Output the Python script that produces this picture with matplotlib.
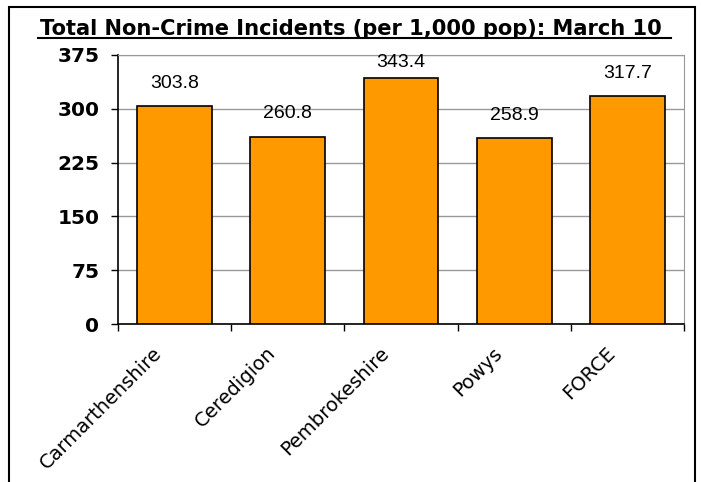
import numpy as np
import matplotlib
matplotlib.use('Agg')
from matplotlib import pyplot as plt
from matplotlib.patches import Rectangle
from matplotlib.lines import Line2D
from matplotlib.transforms import ScaledTranslation

# data
areas = ['Carmarthenshire', 'Ceredigion', 'Pembrokeshire', 'Powys', 'FORCE']
incidents = [303.8, 260.8, 343.4, 258.9, 317.7]
yticks = [0, 75, 150, 225, 300, 375]
title = 'Total Non-Crime Incidents (per 1,000 pop): March 10'

fig = plt.figure(figsize=(7.01, 4.82), dpi=100)
ax = fig.add_axes([118/701, 1-324/482, 566/701, 269/482])

x = np.arange(len(areas))
ax.bar(x, incidents, width=0.66, color='#FF9900', edgecolor='black', linewidth=1.2, zorder=3)
# labels sit ~23px above the bar, but are kept inside the plot area (like excel)
for xi, v in zip(x, incidents):
    ax.text(xi, min(v + 32, 365), '%.1f' % v, ha='center', va='center',
            fontsize=14, family='Liberation Sans')

ax.set_xlim(-0.5, len(areas) - 0.5)
ax.set_ylim(0, 375)
ax.set_yticks(yticks)
ax.set_yticklabels([str(t) for t in yticks], fontsize=14.5, fontweight='bold')
ax.yaxis.grid(True, color='#999999', linewidth=1, zorder=0)
ax.tick_params(axis='y', direction='out', length=5, width=1, pad=8.5)

# category ticks sit between the bars
ax.set_xticks(np.arange(len(areas) + 1) - 0.5)
ax.set_xticklabels([])
ax.set_xticks(x, minor=True)
ax.set_xticklabels(areas, minor=True, rotation=45, ha='right', rotation_mode='anchor',
                   fontsize=14)
ax.tick_params(axis='x', which='major', direction='out', length=5, width=1)
ax.tick_params(axis='x', which='minor', length=0, pad=14)
shift = ScaledTranslation(-22/100, 0, fig.dpi_scale_trans)
for lab in ax.get_xticklabels(minor=True):
    lab.set_transform(lab.get_transform() + shift)

for s in ['top', 'right']:
    ax.spines[s].set_color('#999999')
for s in ['left', 'bottom']:
    ax.spines[s].set_color('black')
    ax.spines[s].set_linewidth(1.2)

# outer frame
fig.patches.append(Rectangle((9/701, -0.1), (695-9)/701, 1.1 - 7/482, transform=fig.transFigure,
                             fill=False, edgecolor='black', linewidth=1.5))

t = fig.text(351/701, 1-29/482, title, ha='center', va='center', fontsize=15.1, fontweight='bold')
fig.canvas.draw()
bb = t.get_window_extent().transformed(fig.transFigure.inverted())
fig.lines.append(Line2D([bb.x0 - 2/701, bb.x1 + 9/701], [1-38/482, 1-38/482], transform=fig.transFigure,
                        color='black', linewidth=1.5))

fig.savefig('out.png', dpi=100)
